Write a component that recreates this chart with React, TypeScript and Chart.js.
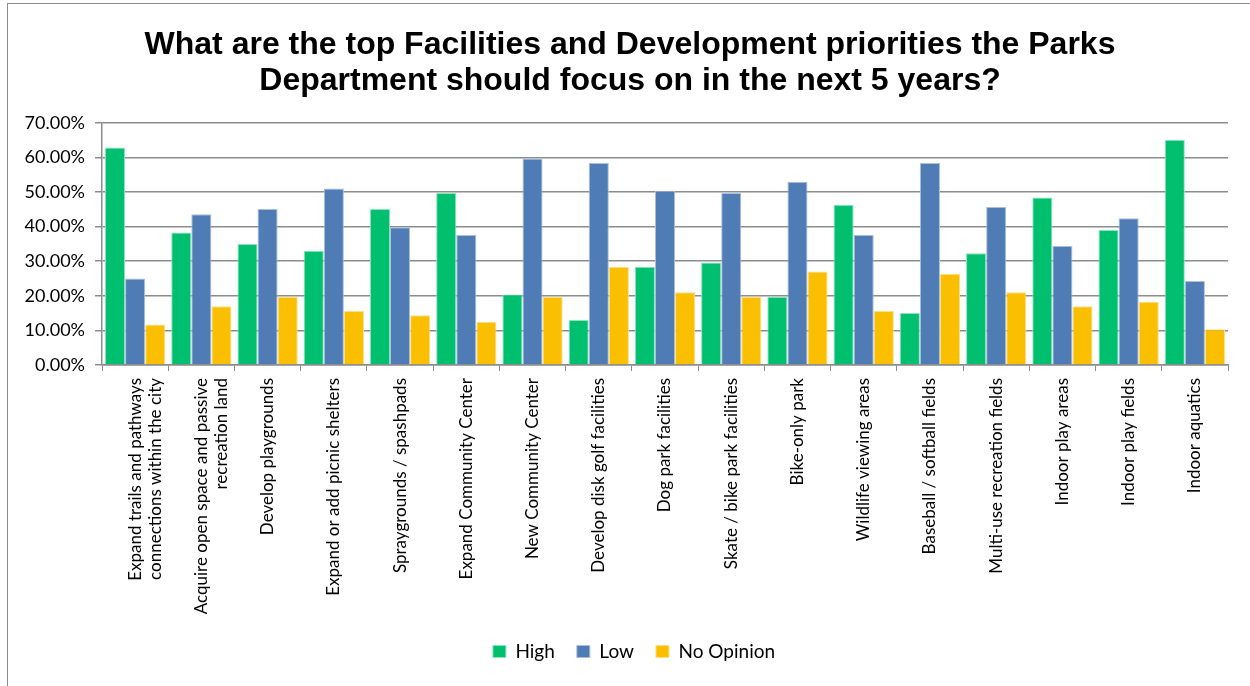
import React, { useEffect, useRef } from "react";
import { Chart, registerables } from "chart.js";

Chart.register(...registerables);

const categories: (string | string[])[] = [
  ["Expand trails and pathways", "connections within the city"],
  ["Acquire open space and passive", "recreation land"],
  "Develop playgrounds",
  "Expand or add picnic shelters",
  "Spraygrounds / spashpads",
  "Expand Community Center",
  "New Community Center",
  "Develop disk golf facilities",
  "Dog park facilities",
  "Skate / bike park facilities",
  "Bike-only park",
  "Wildlife viewing areas",
  "Baseball / softball fields",
  "Multi-use recreation fields",
  "Indoor play areas",
  "Indoor play fields",
  "Indoor aquatics",
];

const highValues = [62.9, 38.3, 35.0, 33.0, 45.1, 49.7, 20.4, 13.0, 28.4, 29.6, 19.7, 46.3, 15.0, 32.3, 48.4, 39.0, 65.1];
const lowValues = [25.0, 43.6, 45.1, 51.0, 39.8, 37.6, 59.7, 58.4, 50.4, 49.7, 53.0, 37.6, 58.4, 45.7, 34.4, 42.4, 24.3];
const noOpinionValues = [11.7, 17.0, 19.7, 15.6, 14.4, 12.4, 19.7, 28.4, 21.0, 19.7, 27.0, 15.6, 26.4, 21.0, 17.0, 18.3, 10.3];

const seriesNames = ["High", "Low", "No Opinion"];
const titleLines = [
  "What are the top Facilities and Development priorities the Parks",
  "Department should focus on in the next 5 years?",
];

const frame = {
  id: "frame",
  beforeDraw(chart: any) {
    const ctx = chart.ctx;
    ctx.save();
    ctx.fillStyle = "#ffffff";
    ctx.fillRect(0, 0, chart.width, chart.height);
    ctx.strokeStyle = "#8c8c8c";
    ctx.lineWidth = 1;
    ctx.strokeRect(7.5, 3.5, chart.width + 20, chart.height + 20);
    ctx.restore();
  },
};

const centerBoxes = {
  id: "centerBoxes",
  afterLayout(chart: any) {
    if (chart.titleBlock) chart.titleBlock.left = 32;
    if (chart.legend) chart.legend.left = 40;
  },
};

export default function App() {
  const ref = useRef<HTMLCanvasElement | null>(null);
  useEffect(() => {
    if (!ref.current) return;
    const chart = new Chart(ref.current, {
      type: "bar",
      data: {
        labels: categories,
        datasets: [
          {
            label: seriesNames[0],
            data: highValues,
            backgroundColor: "#00BF6F",
            borderColor: "#8fe3bf",
            borderWidth: 1,
          },
          {
            label: seriesNames[1],
            data: lowValues,
            backgroundColor: "#4F7CB5",
            borderColor: "#a9bfdc",
            borderWidth: 1,
          },
          {
            label: seriesNames[2],
            data: noOpinionValues,
            backgroundColor: "#F9BF00",
            borderColor: "#fcdf85",
            borderWidth: 1,
          },
        ],
      },
      options: {
        responsive: false,
        animation: false,
        layout: { padding: { left: 0, right: 22, top: 0, bottom: 15 } },
        datasets: { bar: { categoryPercentage: 0.91, barPercentage: 1.0 } },
        plugins: {
          title: {
            display: true,
            text: titleLines,
            color: "#000000",
            font: { family: "'Liberation Sans', Arial, sans-serif", size: 32, weight: "bold", lineHeight: 1.12 },
            padding: { top: 27, bottom: 24.2 },
          },
          legend: {
            display: true,
            position: "bottom",
            labels: {
              color: "#000000",
              font: { family: "Lato, sans-serif", size: 19 },
              boxWidth: 13,
              boxHeight: 12,
              padding: 22,
            },
          },
          tooltip: { enabled: false },
        },
        scales: {
          x: {
            grid: {
              display: true,
              drawOnChartArea: false,
              drawTicks: true,
              tickLength: 6,
              offset: true,
              color: "#8c8c8c",
            },
            border: { display: true, color: "#8c8c8c", width: 1.5 },
            ticks: {
              autoSkip: false,
              minRotation: 90,
              maxRotation: 90,
              padding: 7,
              color: "#000000",
              font: { family: "Lato, sans-serif", size: 17, lineHeight: 1.2 },
            },
            afterFit(scale: any) {
              scale.height = 255;
            },
          },
          y: {
            min: 0,
            max: 70,
            grid: {
              color: "#8c8c8c",
              lineWidth: 1.5,
              drawTicks: true,
              tickLength: 7,
            },
            border: { display: true, color: "#8c8c8c", width: 1.5 },
            ticks: {
              stepSize: 10,
              padding: 10,
              color: "#000000",
              font: { family: "Lato, sans-serif", size: 18 },
              callback: (v: any) => Number(v).toFixed(2) + "%",
            },
            afterFit(scale: any) {
              scale.width = 102;
            },
          },
        },
      },
      plugins: [frame, centerBoxes],
    });
    return () => chart.destroy();
  }, []);
  return (
    <div style={{ position: "fixed", left: 0, top: 0, width: 1250, height: 686, background: "#fff" }}>
      <canvas ref={ref} width={1250} height={686} style={{ width: 1250, height: 686, display: "block" }} />
    </div>
  );
}
